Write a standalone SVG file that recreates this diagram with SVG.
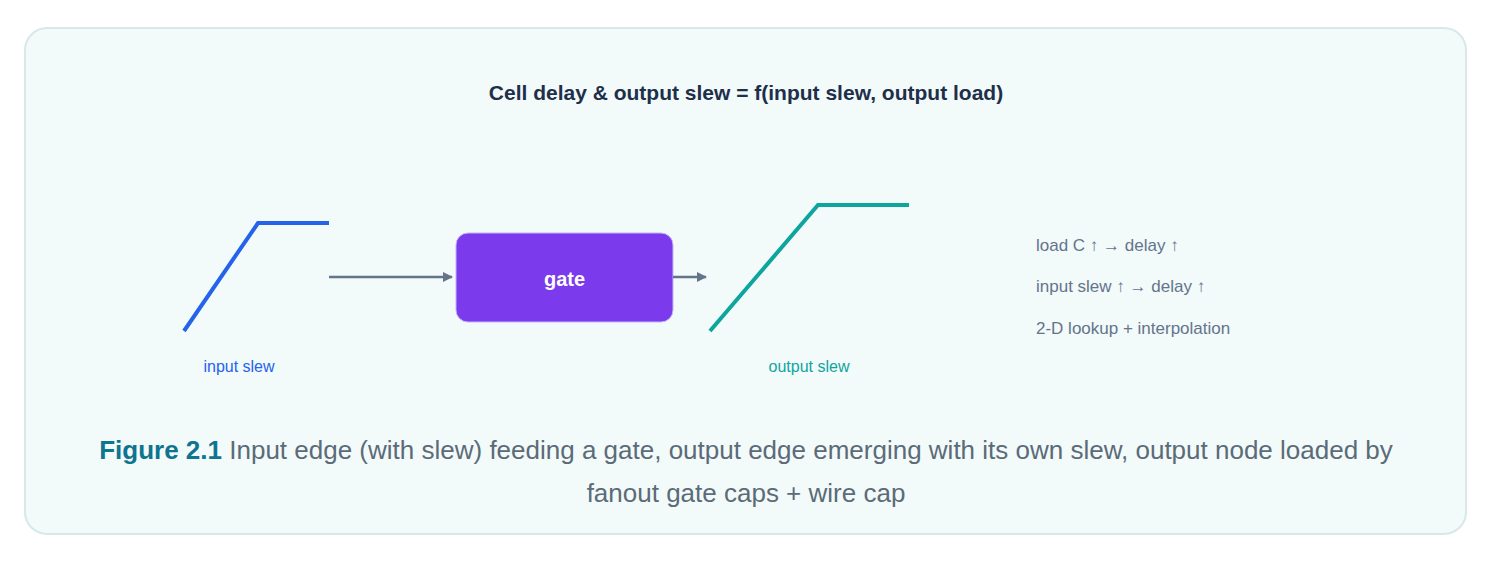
<svg xmlns="http://www.w3.org/2000/svg" width="1494" height="561" viewBox="0 0 1494 561">
<defs>
<style>
text{font-family:"Liberation Sans",Arial,sans-serif}
.note{font-size:17px;fill:#64748b}
.conn{stroke:#64748b;stroke-width:2.5;fill:none}
</style>
<marker id="ah" markerWidth="10" markerHeight="10" refX="9" refY="5" orient="auto" markerUnits="userSpaceOnUse" viewBox="0 0 10 10"><path d="M0,0L10,5L0,10z" fill="#64748b"/></marker>
</defs>
<rect x="25" y="28" width="1441" height="506" rx="22" fill="#f2fafa" stroke="#d8e8ea" stroke-width="2"/>
<text x="746" y="100" text-anchor="middle" font-size="21" font-weight="bold" fill="#1e2f4a">Cell delay &amp; output slew = f(input slew, output load)</text>
<g id="input">
<path d="M184,331L258,223L329,223" stroke="#2563eb" stroke-width="4" fill="none"/>
<text x="239" y="372" text-anchor="middle" font-size="16" fill="#2563eb">input slew</text>
</g>
<g id="gate">
<rect x="456" y="233" width="217" height="89" rx="12" fill="#7c3aed" stroke="#c4b5fd"/>
<text x="564.5" y="286" text-anchor="middle" font-size="20" font-weight="bold" fill="#fff">gate</text>
</g>
<g id="output">
<path d="M710,331L818,205L909,205" stroke="#0fa59f" stroke-width="4" fill="none"/>
<text x="809" y="372" text-anchor="middle" font-size="16" fill="#0fa59f">output slew</text>
</g>
<g id="connectors">
<path class="conn" d="M329,277L452,277" marker-end="url(#ah)"/>
<path class="conn" d="M673,277L706,277" marker-end="url(#ah)"/>
</g>
<g id="notes">
<text class="note" x="1036" y="251">load C ↑ → delay ↑</text>
<text class="note" x="1036" y="292">input slew ↑ → delay ↑</text>
<text class="note" x="1036" y="334">2-D lookup + interpolation</text>
</g>
<text x="746" y="459" text-anchor="middle" font-size="26" fill="#5b6b78"><tspan font-weight="bold" fill="#0e7490">Figure 2.1</tspan>  Input edge (with slew) feeding a gate, output edge emerging with its own slew, output node loaded by</text>
<text x="746" y="502" text-anchor="middle" font-size="26" fill="#5b6b78">fanout gate caps + wire cap</text>
</svg>
